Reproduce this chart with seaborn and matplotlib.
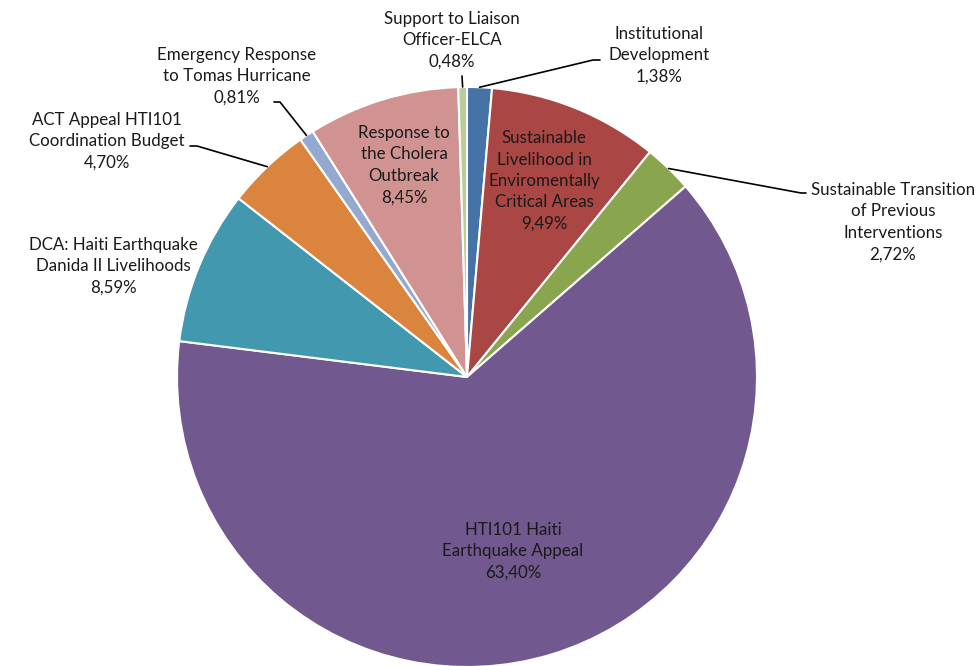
import numpy as np
import matplotlib
matplotlib.use("Agg")
import matplotlib.pyplot as plt
import seaborn as sns

sns.set_theme(style="white")
plt.rcParams['font.family'] = ['Lato', 'DejaVu Sans']

labels = ['Institutional\nDevelopment', 'Sustainable\nLivelihood in\nEnviromentally\nCritical Areas',
          'Sustainable Transition\nof Previous\nInterventions', 'HTI101 Haiti\nEarthquake Appeal',
          'DCA: Haiti Earthquake\nDanida II Livelihoods', 'ACT Appeal HTI101\nCoordination Budget',
          'Emergency Response\nto Tomas Hurricane', 'Response to\nthe Cholera\nOutbreak',
          'Support to Liaison\nOfficer-ELCA']
values = [1.38, 9.49, 2.72, 63.40, 8.59, 4.70, 0.81, 8.45, 0.48]
colors = ['#4572A7', '#AA4643', '#89A54E', '#71588F', '#4198AF',
          '#DB843D', '#93A9CF', '#D19392', '#B9CD96']

W, H = 980, 666
fig = plt.figure(figsize=(W / 100, H / 100), dpi=100)
ax = fig.add_axes([0, 0, 1, 1])

cx, cy, r = 467, H - 377, 290
wedges, _ = ax.pie(values, colors=colors, startangle=90, counterclock=False,
                   center=(cx, cy), radius=r,
                   wedgeprops=dict(edgecolor='white', linewidth=1.5))
ax.set_xlim(0, W)
ax.set_ylim(0, H)
ax.set_aspect('equal')
ax.axis('off')


def edge(i, frac=1.0):
    w = wedges[i]
    a = np.deg2rad((w.theta1 + w.theta2) / 2)
    return cx + frac * r * np.cos(a), cy + frac * r * np.sin(a)


def txt(i, x, y, ha='center'):
    s = f"{labels[i]}\n{values[i]:.2f}%".replace('.', ',')
    ax.text(x, H - y, s, ha=ha, va='center', fontsize=12.2, linespacing=1.42,
            color='#1a1a1a')


# outside labels: (index, text centre, elbow points)
outside = [
    (0, (659, 55), [(593, 60), (600, 60)]),
    (2, (893, 222), [(801, 193), (806, 193)]),
    (4, (113, 266), None),
    (5, (107, 141), [(197, 146), (190, 146)]),
    (6, (237, 76), [(280, 102), (274, 102)]),
    (8, (452, 40), [(462, 76)]),
]
for i, pos, pts in outside:
    txt(i, *pos)
    if pts:
        x0, y0 = edge(i, 1.0)
        xs = [x0] + [p[0] for p in pts]
        ys = [y0] + [H - p[1] for p in pts]
        ax.plot(xs, ys, color='black', lw=1.2)

txt(7, 404, 165)
txt(1, 544, 181)
txt(3, 513, 551)

fig.savefig('out.png', dpi=100)
